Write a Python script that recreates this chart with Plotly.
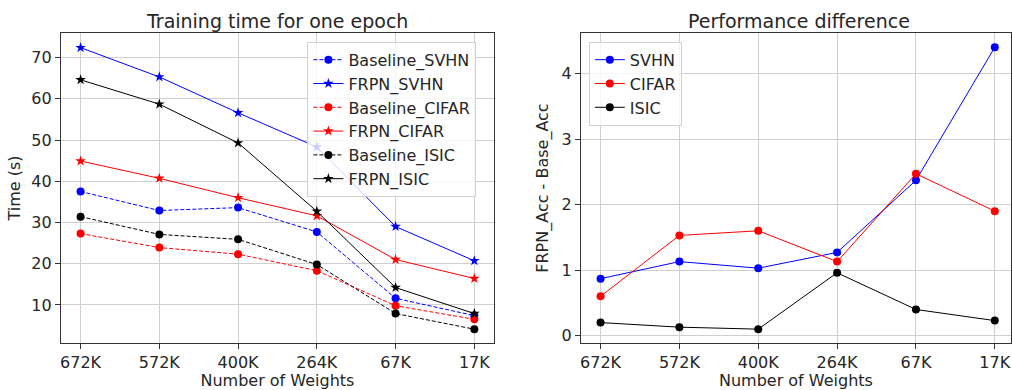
import plotly.graph_objects as go

weights = ["672K", "572K", "400K", "264K", "67K", "17K"]

baseline_svhn = [37.5, 32.9, 33.6, 27.7, 11.6, 7.4]
frpn_svhn = [72.4, 65.3, 56.6, 48.3, 29.0, 20.7]
baseline_cifar = [27.3, 23.9, 22.3, 18.3, 9.8, 6.5]
frpn_cifar = [44.9, 40.7, 36.0, 31.6, 21.0, 16.4]
baseline_isic = [31.4, 27.1, 25.9, 19.8, 7.9, 4.1]
frpn_isic = [64.6, 58.7, 49.3, 32.7, 14.2, 7.9]

diff_svhn = [0.87, 1.13, 1.03, 1.27, 2.37, 4.40]
diff_cifar = [0.60, 1.53, 1.60, 1.13, 2.47, 1.90]
diff_isic = [0.20, 0.13, 0.10, 0.96, 0.40, 0.23]

W, H = 1012, 390
FONT = "DejaVu Sans"
FS = 16

fig = go.Figure()

left_series = [
    ("Baseline_SVHN", baseline_svhn, "blue", "dash", "circle", 8),
    ("FRPN_SVHN", frpn_svhn, "blue", "solid", "star", 8),
    ("Baseline_CIFAR", baseline_cifar, "red", "dash", "circle", 8),
    ("FRPN_CIFAR", frpn_cifar, "red", "solid", "star", 8),
    ("Baseline_ISIC", baseline_isic, "black", "dash", "circle", 8),
    ("FRPN_ISIC", frpn_isic, "black", "solid", "star", 8),
]
for name, vals, col, dash, sym, sz in left_series:
    fig.add_trace(go.Scatter(
        x=weights, y=vals, name=name, mode="lines+markers",
        line=dict(color=col, width=1, dash="4px,2px" if dash == "dash" else "solid"),
        marker=dict(symbol=sym, size=sz, color=col, line=dict(width=0)),
        xaxis="x", yaxis="y", legend="legend",
    ))

right_series = [
    ("SVHN", diff_svhn, "blue"),
    ("CIFAR", diff_cifar, "red"),
    ("ISIC", diff_isic, "black"),
]
for name, vals, col in right_series:
    fig.add_trace(go.Scatter(
        x=weights, y=vals, name=name, mode="lines+markers",
        line=dict(color=col, width=1),
        marker=dict(symbol="circle", size=8, color=col, line=dict(width=0)),
        xaxis="x2", yaxis="y2", legend="legend2",
    ))

ybot = (H - 345) / H
ytop = (H - 33) / H

axis_common = dict(
    showline=True, linecolor="#333333", linewidth=1, mirror=True,
    showgrid=True, gridcolor="#cfcfcf", gridwidth=1,
    ticks="outside", ticklen=5, tickcolor="#333333",
    tickfont=dict(family=FONT, size=FS, color="#262626"),
    zeroline=False,
)

fig.update_layout(
    width=W, height=H,
    margin=dict(l=0, r=0, t=0, b=0),
    paper_bgcolor="white", plot_bgcolor="white",
    font=dict(family=FONT, size=FS, color="#262626"),
    xaxis=dict(domain=[60 / W, 494 / W], anchor="y", type="category",
               range=[-0.25, 5.25],
               title=dict(text="Number of Weights", font=dict(family=FONT, size=FS), standoff=2),
               **axis_common),
    yaxis=dict(domain=[ybot, ytop], anchor="x", range=[0.7, 76.0],
               tickvals=[10, 20, 30, 40, 50, 60, 70],
               title=dict(text="Time (s)", font=dict(family=FONT, size=FS), standoff=6),
               **axis_common),
    xaxis2=dict(domain=[581 / W, 1.0], anchor="y2", type="category",
                range=[-0.25, -0.25 + (W - 581) / 79.0],
                title=dict(text="Number of Weights", font=dict(family=FONT, size=FS), standoff=2),
                **axis_common),
    yaxis2=dict(domain=[ybot, ytop], anchor="x2", range=[-0.115, 4.62],
                tickvals=[0, 1, 2, 3, 4],
                title=dict(text="FRPN_Acc - Base_Acc", font=dict(family=FONT, size=FS), standoff=8),
                **axis_common),
    legend=dict(x=307 / W, y=(H - 42) / H, xanchor="left", yanchor="top",
                bgcolor="rgba(255,255,255,0.8)", bordercolor="#d0d0d0", borderwidth=1,
                font=dict(family=FONT, size=FS, color="#262626"), tracegroupgap=0),
    legend2=dict(x=589 / W, y=(H - 42) / H, xanchor="left", yanchor="top",
                 bgcolor="rgba(255,255,255,0.8)", bordercolor="#d0d0d0", borderwidth=1,
                 font=dict(family=FONT, size=FS, color="#262626"), tracegroupgap=0),
    annotations=[
        dict(text="Training time for one epoch", x=(60 + 494) / 2 / W, y=(H - 21) / H,
             xref="paper", yref="paper", showarrow=False, xanchor="center", yanchor="middle",
             font=dict(family=FONT, size=19, color="#262626")),
        dict(text="Performance difference", x=799.5 / W, y=(H - 21) / H,
             xref="paper", yref="paper", showarrow=False, xanchor="center", yanchor="middle",
             font=dict(family=FONT, size=19, color="#262626")),
    ],
)

fig.write_html("out.html")
